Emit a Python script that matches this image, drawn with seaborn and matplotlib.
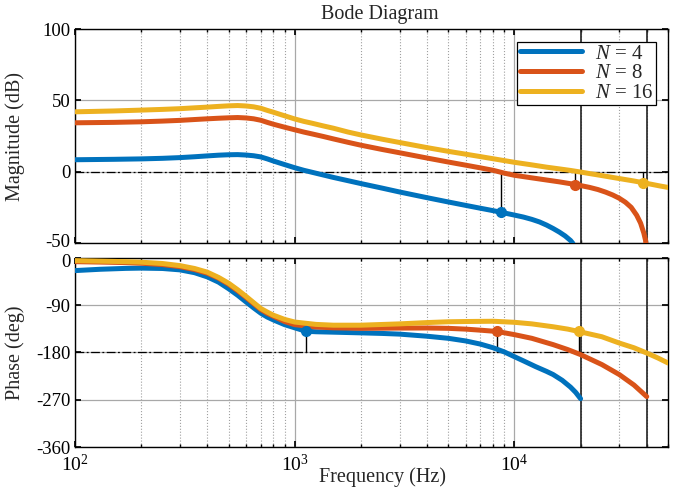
"""Bode diagram for N = 4, 8, 16 with margin markers."""

import matplotlib
matplotlib.use("Agg")
import matplotlib.pyplot as plt
import matplotlib.ticker as mticker
import matplotlib.transforms as mtransforms
import pandas as pd
import seaborn as sns

# ---- data ----
labels = ["$N$ = 4", "$N$ = 8", "$N$ = 16"]
colors = ["#0072BD", "#D95319", "#EDB120"]

mag_freq_n4 = [100, 150, 200, 250, 300, 350, 400, 450, 500, 550, 600, 650, 700, 750, 800,
               900, 1000, 1100, 1200, 1350, 1500, 1750, 2000, 2500, 3000, 4000, 5000,
               6000, 7000, 8000, 8730, 10000, 11000, 12000, 13000, 14000, 15000, 16000,
               17000, 18000, 18400, 18800]
mag_n4 = [8.4, 8.7, 9.0, 9.4, 9.9, 10.5, 11.1, 11.6, 11.9, 12.0, 11.7, 11.2, 10.4, 9.0, 7.5,
          5.0, 2.8, 1.0, -0.4, -2.3, -4.0, -6.3, -8.3, -11.5, -14.2, -18.2, -21.2,
          -23.6, -25.6, -27.3, -28.5, -30.4, -31.8, -33.4, -35.2, -37.4, -39.8, -42.3,
          -45.0, -48.2, -50, -53]

mag_freq_n8 = [100, 150, 200, 250, 300, 350, 400, 450, 500, 550, 600, 650, 700, 750, 800,
               900, 1000, 1100, 1200, 1350, 1500, 1750, 2000, 2500, 3000, 4000, 5000,
               6000, 7000, 8000, 9000, 10000, 12000, 14000, 16000, 18000, 18900, 20000,
               22000, 24000, 26000, 28000, 30000, 32000, 34000, 36000, 37500, 38800,
               39500, 39900]
mag_n8 = [34.3, 34.6, 35.0, 35.5, 36.0, 36.6, 37.1, 37.5, 37.8, 38.0, 37.7, 37.1, 36.1, 34.6,
          33.3, 31.2, 29.4, 27.8, 26.5, 24.7, 23.0, 20.6, 18.6, 15.6, 13.3, 9.6, 6.8,
          4.6, 2.7, 1.0, -1.0, -2.5, -4.3, -5.8, -7.1, -8.4, -9, -9.7,
          -11, -12.5, -14.3, -16.3, -18.6, -21.4, -25, -30.5, -36, -43,
          -48, -55]

mag_freq_n16 = [100, 150, 200, 250, 300, 350, 400, 450, 500, 550, 600, 650, 700, 750, 800,
                900, 1000, 1100, 1200, 1350, 1500, 1750, 2000, 2500, 3000, 4000, 5000,
                6000, 7000, 8000, 10000, 12000, 14000, 16000, 18000, 19600, 22000, 25000,
                28000, 32000, 35000, 38500, 42000, 46000, 50000]
mag_n16 = [42, 42.6, 43.2, 43.7, 44.2, 44.8, 45.3, 45.8, 46.2, 46.4, 46.1, 45.5, 44.5, 43.0,
           41.7, 39.2, 37.0, 35.3, 34.0, 32.1, 30.5, 27.8, 25.8, 22.8, 20.5, 16.9, 14.3,
           12.3, 10.6, 9.1, 6.6, 4.8, 3.2, 2.0, 0.9, 0, -1.3, -2.7,
           -4.0, -5.5, -6.5, -7.7, -8.8, -10.0, -11]

ph_freq_n4 = [100, 130, 170, 200, 250, 300, 350, 400, 450, 500, 550, 600, 650, 700, 750,
              800, 900, 1000, 1123, 1250, 1500, 2000, 2500, 3000, 4000, 5000, 6000, 7000,
              8000, 9000, 10000, 11000, 12500, 14000, 15000, 16500, 18000, 19000, 20000]
ph_n4 = [-24, -21.5, -19.8, -19.3, -20, -22.6, -28, -36, -46, -58.5, -71, -83.6, -95, -105,
         -112.5, -118, -127, -133, -139.5, -140.5, -141.3, -142.6, -143.7, -145, -149,
         -153, -158, -164, -171, -179, -188, -196, -207, -216, -222, -233, -246, -256,
         -268]

ph_freq_n8 = [100, 130, 170, 200, 250, 300, 350, 400, 450, 500, 550, 600, 650, 700, 750,
              800, 900, 1000, 1250, 1500, 2000, 3000, 4000, 5000, 6000, 7000, 8340, 10000,
              12000, 15000, 17500, 20000, 25000, 30000, 35000, 40000]
ph_n8 = [-7, -7.8, -8.8, -10, -12.5, -16.5, -22, -29, -38.5, -50, -62.5, -75, -87, -98,
         -105.5, -111, -121, -127, -131.5, -133, -134, -133.5, -133.3, -134, -135.5,
         -137.5, -140, -146, -153, -165, -174.5, -184, -203, -222, -242, -264]

ph_freq_n16 = [100, 130, 170, 200, 250, 300, 350, 400, 450, 500, 550, 600, 650, 700, 750,
               800, 900, 1000, 1250, 1500, 2000, 3000, 4000, 5000, 6000, 8000, 10000,
               12000, 15000, 17500, 19600, 25000, 30000, 35000, 40000, 45000, 50000]
ph_n16 = [-5, -6, -7, -8, -10.5, -14.5, -20, -27, -37, -48, -60.5, -73, -85, -96, -103,
          -109, -117, -122, -126.5, -128, -128, -125.5, -123, -121.5, -121, -120.5,
          -122.5, -125.5, -131, -135.5, -140, -150, -162, -171, -181, -190.5, -200]

# gain margin points (magnitude plot) and phase margin points (phase plot)
gm_freq = [8730, 18900, 38500]
gm_mag = [-28.5, -9, -7.7]
pm_freq = [1123, 8340, 19600]
pm_phase = [-139.5, -140, -140]
nyquist_freq = [20000, 40000]

mag_ticks = [-50, 0, 50, 100]
phase_ticks = [-360, -270, -180, -90, 0]

# ---- style ----
sns.set_theme(style="ticks")
plt.rcParams.update({
    "font.family": ["Liberation Serif", "DejaVu Serif"],
    "font.size": 14,
    "mathtext.fontset": "custom",
    "mathtext.rm": "Liberation Serif",
    "mathtext.it": "Liberation Serif:italic",
    "axes.unicode_minus": False,
    "axes.edgecolor": "black",
    "axes.linewidth": 1.0,
    "xtick.direction": "in",
    "ytick.direction": "in",
    "xtick.color": "black",
    "ytick.color": "black",
    "xtick.labelsize": 14,
    "ytick.labelsize": 13.5,
})

fig = plt.figure(figsize=(6.82, 4.93), dpi=100)
ax_mag = fig.add_axes([0.110, 0.507, 0.8695, 0.434])
ax_ph = fig.add_axes([0.110, 0.0933, 0.8695, 0.3834])

mag_series = [(mag_freq_n4, mag_n4), (mag_freq_n8, mag_n8), (mag_freq_n16, mag_n16)]
ph_series = [(ph_freq_n4, ph_n4), (ph_freq_n8, ph_n8), (ph_freq_n16, ph_n16)]

for ax in (ax_mag, ax_ph):
    ax.set_xscale("log")
    ax.set_xlim(100, 50000)
    ax.xaxis.set_major_locator(mticker.LogLocator(base=10, numticks=10))
    ax.xaxis.set_minor_locator(mticker.LogLocator(base=10, subs=range(2, 10), numticks=20))
    ax.xaxis.set_minor_formatter(mticker.NullFormatter())
    ax.grid(True, which="major", color="#a8a8a8", linewidth=0.9, linestyle="-")
    ax.grid(True, which="minor", axis="x", color="#a0a0a0", linewidth=0.8, linestyle=":")
    ax.tick_params(which="both", top=True, right=True, length=4)
    ax.tick_params(which="minor", length=2)
    ax.set_axisbelow(True)
    for f in nyquist_freq:
        ax.axvline(f, color="#222222", linewidth=1.2, zorder=2)

# magnitude
for (f, v), c, lab in zip(mag_series, colors, labels):
    df = pd.DataFrame({"freq": f, "val": v})
    sns.lineplot(data=df, x="freq", y="val", ax=ax_mag, color=c, linewidth=3.6,
                 label=lab, estimator=None, sort=False, solid_capstyle="round",
                 solid_joinstyle="round", zorder=4)
ax_mag.axhline(0, color="black", linewidth=0.9, linestyle=(0, (7, 2, 1.5, 2)), zorder=3)
for f, m, c in zip(gm_freq, gm_mag, colors):
    ax_mag.plot([f, f], [0, m], color="black", linewidth=1.0, zorder=3)
    ax_mag.plot([f], [m], "o", color=c, markersize=7, zorder=5)
ax_mag.set_ylim(-50, 100)
ax_mag.set_yticks(mag_ticks)
ax_mag.set_xticklabels([])
ax_mag.set_xlabel("")
ax_mag.set_ylabel("Magnitude (dB)", fontsize=14.5)
ax_mag.yaxis.set_label_coords(-0.085, 0.5)
ax_mag.legend(loc="upper right", fontsize=15, frameon=True, fancybox=False,
              edgecolor="black", framealpha=1, handlelength=3.0, labelspacing=0.0,
              borderpad=0.12, handletextpad=0.6, borderaxespad=0.6)
ax_mag.get_legend().get_frame().set_linewidth(0.9)

# phase
for (f, v), c in zip(ph_series, colors):
    df = pd.DataFrame({"freq": f, "val": v})
    sns.lineplot(data=df, x="freq", y="val", ax=ax_ph, color=c, linewidth=3.6,
                 estimator=None, sort=False, solid_capstyle="round",
                 solid_joinstyle="round", zorder=4)
ax_ph.axhline(-180, color="black", linewidth=0.9, linestyle=(0, (7, 2, 1.5, 2)), zorder=3)
for f, p, c in zip(pm_freq, pm_phase, colors):
    ax_ph.plot([f, f], [-180, p], color="black", linewidth=1.0, zorder=3)
    ax_ph.plot([f], [p], "o", color=c, markersize=7, zorder=5)
ax_ph.set_ylim(-360, 0)
ax_ph.set_yticks(phase_ticks)
ax_ph.set_ylabel("Phase (deg)", fontsize=14.5)
ax_ph.yaxis.set_label_coords(-0.085, 0.5)
ax_ph.set_xlabel("")
ax_ph.tick_params(axis="x", which="major", pad=5)

# nudge the two tick labels that meet between the panels
fig.canvas.draw()
lbl_bottom = ax_mag.get_yticklabels()[0]
lbl_bottom.set_transform(lbl_bottom.get_transform()
                         + mtransforms.ScaledTranslation(0, 3 / 100, fig.dpi_scale_trans))
lbl_top = ax_ph.get_yticklabels()[-1]
lbl_top.set_transform(lbl_top.get_transform()
                      + mtransforms.ScaledTranslation(0, -3 / 100, fig.dpi_scale_trans))

fig.text(380 / 682, 1 - 15 / 493, "Bode Diagram", ha="center", va="center", fontsize=14.5)
fig.text(383 / 682, 1 - 477 / 493, "Frequency (Hz)", ha="center", va="center", fontsize=14.5)

fig.savefig("out.png", dpi=100)
